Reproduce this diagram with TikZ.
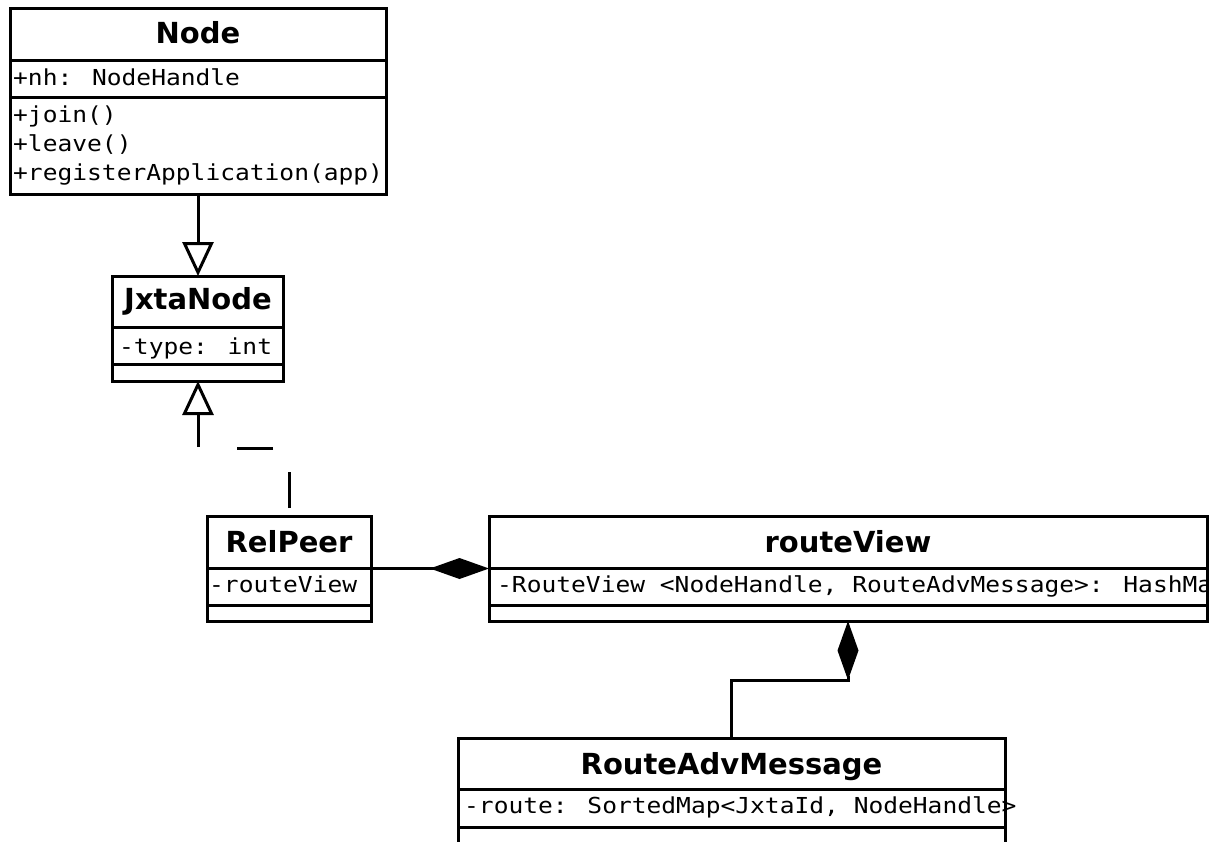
\documentclass[tikz,border=0pt]{standalone}
\usepackage{fontspec}
\usetikzlibrary{arrows.meta,calc}
\newfontfamily\titlefont{DejaVu Sans}
\newfontfamily\memberfont[FakeStretch=1.117]{DejaVu Sans Mono}

\tikzset{
  classbox/.style={draw, line width=3pt, inner sep=0pt, outer sep=0pt, anchor=north west},
  divider/.style={line width=3pt},
  classname/.style={font=\titlefont\bfseries\fontsize{29}{29}\selectfont, inner sep=0pt, anchor=base},
  member/.style={font=\memberfont\fontsize{22}{28}\selectfont, inner sep=0pt, anchor=base west},
  link/.style={line width=3pt},
  inherit/.style={link, -{Triangle[open, length=34pt, width=31pt, line join=miter]}},
  realize/.style={inherit, dash pattern=on 36pt off 40pt, dash phase=68pt},
  compose/.style={link, -{Diamond[length=59pt, width=21pt]}},
}

\begin{document}
\begin{tikzpicture}[x=1pt, y=-1pt]
\useasboundingbox (0,0) rectangle (1221,841);

% class frames
\node[classbox, minimum width=376, minimum height=186] (cNode) at (10,8) {};
\node[classbox, minimum width=171, minimum height=105] (cJxta) at (112.5,276) {};
\node[classbox, minimum width=164, minimum height=105] (cRel) at (207,516) {};
\node[classbox, minimum width=718, minimum height=105] (cView) at (489,516) {};
\node[classbox, minimum width=547, minimum height=107] (cRam) at (458,738) {};

% compartment separators
\draw[divider] ($(cNode.north west)+(0,52.5)$) -- ($(cNode.north east)+(0,52.5)$);
\draw[divider] ($(cNode.north west)+(0,89)$) -- ($(cNode.north east)+(0,89)$);
\draw[divider] ($(cJxta.north west)+(0,51)$) -- ($(cJxta.north east)+(0,51)$);
\draw[divider] ($(cJxta.north west)+(0,88)$) -- ($(cJxta.north east)+(0,88)$);
\draw[divider] ($(cRel.north west)+(0,52.5)$) -- ($(cRel.north east)+(0,52.5)$);
\draw[divider] ($(cRel.north west)+(0,89.5)$) -- ($(cRel.north east)+(0,89.5)$);
\draw[divider] ($(cView.north west)+(0,52)$) -- ($(cView.north east)+(0,52)$);
\draw[divider] ($(cView.north west)+(0,89)$) -- ($(cView.north east)+(0,89)$);
\draw[divider] ($(cRam.north west)+(0,51)$) -- ($(cRam.north east)+(0,51)$);
\draw[divider] ($(cRam.north west)+(0,89)$) -- ($(cRam.north east)+(0,89)$);

% class names
\node[classname] (tNode) at ($(cNode.north)+(0,35)$) {Node};
\node[classname] (tJxta) at ($(cJxta.north)+(0,33.5)$) {JxtaNode};
\node[classname] (tRel) at ($(cRel.north)+(0,36)$) {RelPeer};
\node[classname] (tView) at ($(cView.north)+(0,36)$) {routeView};
\node[classname] (tRam) at ($(cRam.north)+(0,36)$) {RouteAdvMessage};

% attributes and operations
\node[member] (aNode) at (13,85) {+nh: NodeHandle};
\node[member] (mJoin) at (13,122.5) {+join()};
\node[member] (mLeave) at (13,151) {+leave()};
\node[member] (mReg) at (13,180) {+registerApplication(app)};
\node[member] (aJxta) at (119,354) {-type: int};
\node[member] (aRel) at (209,592) {-routeView};
\begin{scope}
  \clip (cView.north west) rectangle (cView.south east);
  \node[member] (aView) at (497,592) {-RouteView <NodeHandle, RouteAdvMessage>: HashMap};
\end{scope}
\node[member] (aRam) at (464,813) {-route: SortedMap<JxtaId, NodeHandle>};

% relationships
\draw[inherit] (cNode.south) -- (cJxta.north);
\draw[realize] (cRel.north) -- ++(0,-68) -| (cJxta.south);
\draw[compose] (cRel.east) -- (cView.west);
\draw[compose] (cRam.north) |- ($(cView.south)+(0,59)$) -- (cView.south);
\end{tikzpicture}
\end{document}
